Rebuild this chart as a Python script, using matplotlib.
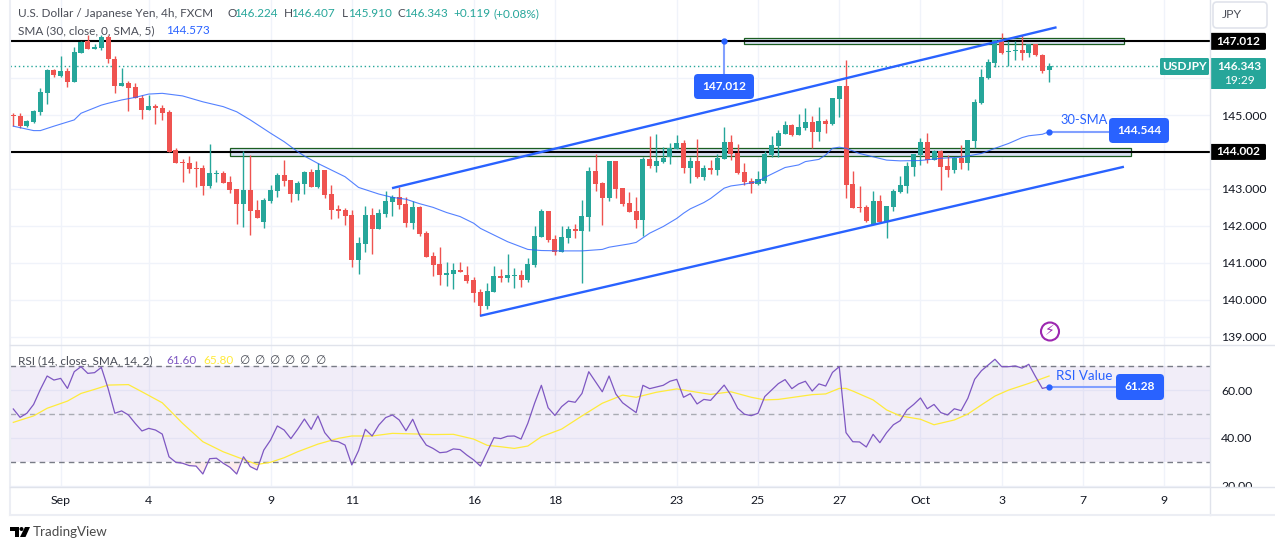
import matplotlib
matplotlib.use('Agg')
import matplotlib.pyplot as plt
from matplotlib.lines import Line2D
from matplotlib.patches import FancyBboxPatch, Polygon, Circle, Rectangle
from matplotlib.transforms import Bbox

plt.rcParams['font.family'] = ['Lato', 'DejaVu Sans']

# 4h candles, one value per bar
opens = [145.00,144.98,144.70,144.82,145.09,145.61,146.22,146.06,146.20,145.91,146.69,147.00,146.79,146.81,147.11,146.51,145.79,145.88,145.75,145.46,
         145.15,145.25,145.20,145.08,144.05,143.73,143.70,143.57,143.57,143.09,143.41,143.43,143.19,143.00,142.60,142.97,142.43,142.11,142.68,142.95,
         143.38,143.24,142.87,143.14,143.46,143.06,143.51,142.86,142.45,142.43,142.29,141.08,141.52,142.29,141.92,142.33,142.65,142.78,142.59,142.08,
         142.51,141.80,141.18,140.96,140.68,140.70,140.80,140.67,140.53,140.20,139.84,140.21,140.64,140.59,140.65,140.67,140.53,140.94,141.71,142.40,
         141.64,141.29,141.67,141.91,141.86,142.24,143.49,143.16,142.75,143.76,143.02,142.62,142.40,142.16,143.81,143.62,143.72,143.86,144.09,144.24,
         143.57,143.76,143.32,143.57,143.51,143.81,144.27,143.97,143.46,143.21,143.13,143.21,143.92,144.16,144.49,144.73,144.46,144.65,144.81,144.54,
         144.84,144.75,145.44,145.79,143.13,142.51,142.51,142.05,142.66,142.11,142.52,142.92,143.09,143.60,143.92,144.27,143.77,144.03,143.62,143.51,
         143.83,143.70,144.31,145.34,146.01,146.42,147.01,146.71,146.75,146.76,146.69,146.93,146.63,146.22]
highs = [145.05,145.05,144.87,145.14,145.73,146.25,146.24,146.60,146.27,146.84,147.01,147.17,146.94,147.17,147.17,146.60,146.27,145.92,145.88,145.54,
         145.54,145.30,145.27,145.14,144.10,143.81,143.89,143.76,143.65,144.22,143.51,143.49,143.35,143.00,144.04,143.92,142.70,142.74,143.11,143.42,
         143.78,143.24,143.21,143.49,143.54,143.69,143.51,143.11,142.56,142.47,142.43,141.70,142.54,142.47,142.45,142.94,142.83,143.06,142.77,142.66,
         142.55,141.86,141.28,141.43,141.01,140.98,141.01,140.91,140.62,140.29,140.44,140.91,140.82,141.24,140.85,140.80,141.12,141.99,142.46,142.40,
         141.75,141.99,141.99,142.05,142.70,143.58,143.95,143.20,143.76,143.76,143.02,142.92,142.77,143.86,144.43,144.49,144.14,144.24,144.46,144.33,
         143.86,144.35,143.65,143.78,143.95,144.68,144.46,144.22,143.70,143.30,143.49,144.03,144.43,144.60,144.84,144.76,145.03,145.19,144.98,145.22,
         144.89,145.45,145.79,146.49,143.49,143.08,142.56,142.93,142.83,142.55,142.99,143.35,143.74,143.94,144.39,144.51,144.05,144.05,143.92,143.87,
         144.19,144.33,145.43,146.24,146.52,147.04,147.22,147.01,147.01,147.17,146.94,146.93,146.65,146.41]
lows = [144.70,144.64,144.69,144.78,145.00,145.30,146.04,146.02,145.77,145.91,146.67,146.79,146.79,146.76,146.40,145.61,145.79,145.12,145.45,144.89,
        145.14,144.76,144.87,143.99,143.71,143.20,143.44,143.06,142.84,143.03,143.20,143.17,142.90,142.06,141.98,141.76,142.22,141.95,142.63,142.79,
        143.08,142.65,142.71,142.87,143.06,143.03,142.76,142.19,142.22,142.02,140.89,140.70,141.30,141.24,141.90,142.25,142.27,142.46,141.98,141.92,
        141.73,141.16,140.65,140.40,140.38,140.29,140.76,140.44,139.94,139.56,139.75,140.21,140.49,140.49,140.32,140.35,140.49,140.87,141.71,141.57,
        141.21,141.29,141.54,141.68,140.46,141.87,142.95,142.02,142.67,142.74,142.53,142.37,141.94,141.72,143.57,143.46,143.70,143.67,144.09,143.43,
        143.16,143.30,143.24,143.40,143.38,143.81,143.78,143.40,143.11,142.89,143.11,143.17,143.86,143.86,144.49,144.43,144.46,144.60,144.11,144.30,
        144.51,144.73,144.96,142.76,142.49,142.38,142.09,142.05,142.08,141.66,142.41,142.88,142.90,143.36,143.65,143.71,143.77,142.98,143.33,143.44,
        143.54,143.51,144.10,145.30,145.97,146.29,146.66,146.33,146.49,146.48,146.58,146.61,146.15,145.91]
closes = [144.98,144.70,144.84,145.11,145.62,146.22,146.10,146.20,145.91,146.71,146.97,146.79,146.84,147.13,146.51,145.79,145.86,145.73,145.45,145.15,
          145.24,145.20,145.07,144.01,143.71,143.71,143.54,143.54,143.09,143.43,143.43,143.17,142.98,142.60,142.97,142.41,142.22,142.70,142.97,143.38,
          143.22,142.87,143.16,143.46,143.06,143.51,142.84,142.44,142.41,142.27,141.08,141.53,142.29,141.92,142.35,142.67,142.78,142.57,142.08,142.51,
          141.79,141.16,140.95,140.68,140.72,140.80,140.76,140.50,140.19,139.84,140.23,140.64,140.59,140.67,140.67,140.53,140.96,141.72,142.40,141.62,
          141.29,141.70,141.91,141.87,142.27,143.49,143.13,142.75,143.76,143.01,142.58,142.37,142.16,143.81,143.62,143.76,143.84,144.11,144.24,143.57,
          143.76,143.32,143.57,143.52,143.84,144.27,143.95,143.43,143.19,143.14,143.26,143.95,144.19,144.51,144.73,144.45,144.68,144.81,144.54,144.84,
          144.76,145.45,145.79,143.11,142.49,142.48,142.13,142.66,142.10,142.54,142.93,143.11,143.62,143.94,144.27,143.78,144.03,143.60,143.51,143.83,
          143.70,144.33,145.36,146.03,146.44,147.04,146.68,146.74,146.76,146.69,146.93,146.62,146.20,146.34]

sma_idx = [0,3,4,6,9,10,13,14,16,18,20,22,25,28,31,33,35,38,40,42,43,45,47,49,51,53,54,56,58,60,62,64,66,68,69,71,73,75,76,78,81,84,87,88,91,92,94,96,98,99,100,102,103,105,106,108,110,111,113,114,116,117,119,120,121,122,123,125,127,129,131,134,137,140,143,145,147,149,150,152,153]
sma_vals = [144.70,144.58,144.58,144.70,144.87,145.05,145.27,145.32,145.41,145.48,145.57,145.59,145.52,145.36,145.23,145.09,144.87,144.51,144.28,144.01,143.89,143.69,143.51,143.33,143.04,142.92,142.86,142.77,142.72,142.60,142.50,142.36,142.25,142.07,141.93,141.75,141.57,141.43,141.36,141.33,141.32,141.32,141.36,141.42,141.51,141.55,141.80,141.98,142.20,142.34,142.46,142.63,142.74,143.02,143.08,143.13,143.20,143.31,143.49,143.58,143.65,143.74,143.80,143.92,144.10,144.13,144.10,143.96,143.87,143.78,143.76,143.77,143.83,143.86,143.96,144.10,144.23,144.39,144.44,144.48,144.55]

rsi_vals = [52.1,48.6,50.3,54.0,60.3,65.9,64.2,64.9,60.7,67.7,69.8,67.0,67.3,69.5,60.7,50.3,51.3,49.6,46.1,42.9,
            44.0,43.3,41.6,32.1,29.8,29.4,28.4,28.2,24.9,31.3,31.5,29.4,27.7,24.9,32.1,28.0,26.6,34.9,39.1,45.0,
            43.3,39.7,43.6,47.9,43.6,49.2,42.2,38.8,38.4,37.0,28.7,34.7,43.6,40.8,45.4,48.5,49.6,47.5,43.0,47.8,
            41.2,37.0,35.6,33.8,34.1,35.4,35.1,32.8,30.8,28.2,34.2,40.1,39.7,40.7,40.8,39.5,46.1,54.5,62.0,52.6,
            49.4,53.1,55.4,54.9,58.6,67.7,63.5,59.3,65.9,58.4,54.7,52.6,50.6,62.0,60.6,61.3,62.0,63.7,64.5,57.0,
            58.5,54.2,56.1,55.7,58.9,62.1,57.9,52.4,49.9,49.3,50.3,57.3,60.0,62.7,64.4,60.6,62.6,63.7,59.6,62.6,
            61.7,67.4,69.8,42.2,38.4,38.3,36.2,41.5,38.0,42.2,45.5,47.2,51.7,54.0,56.7,52.2,54.0,50.6,49.6,52.2,
            51.4,56.6,64.5,68.1,70.5,72.9,69.8,69.8,70.1,69.2,70.8,65.6,60.7,61.4]
rsi_ma_idx = [0,3,5,8,10,12,14,17,19,22,25,28,31,34,36,38,40,42,45,48,50,53,56,60,62,65,68,70,72,74,76,78,81,84,87,90,92,95,98,101,103,106,109,111,113,116,118,120,122,123,124,127,129,131,134,136,139,141,143,145,147,150,153]
rsi_ma_vals = [46.5,49.2,52.4,55.4,58.6,60.3,62.1,62.3,59.3,54.7,46.1,38.4,34.2,31.0,28.9,29.8,31.7,34.2,37.4,39.8,40.8,40.8,41.9,41.6,41.4,41.5,39.5,36.9,36.3,35.6,36.6,40.5,43.7,49.2,54.5,57.9,57.0,59.1,60.5,59.1,58.2,59.3,57.0,55.9,56.1,57.3,58.1,58.4,60.7,60.7,59.6,55.9,51.7,49.2,47.8,45.5,47.5,50.0,53.8,57.5,60.0,62.8,65.9]

date_ticks = [7,20,38,50,68,80,98,110,122,134,146,158,170]
date_labels = ['Sep','4','9','11','16','18','23','25','27','Oct','3','7','9']
price_ticks = [139,140,141,142,143,144,145,146,147]
price_hidden = [144,146,147]  # sit under the tags
rsi_ticks = [20,40,60]

level_hi = 147.012
level_lo = 144.002
last_price = 146.343
sma_last = 144.544
rsi_last = 61.28
chan_upper_x = [55.94,154.1]
chan_upper_y = [143.02,147.38]
chan_lower_x = [68.94,164.05]
chan_lower_y = [139.56,143.60]
zone_hi = [107.9,164.05,146.92,147.10]
zone_lo = [32.0,165.1,143.90,144.10]

BLUE = '#2962FF'
LBLUE = '#82A0FF'
UP = '#26A69A'
DOWN = '#EF5350'
GRID = '#F0F3FA'
EDGE = '#E0E3EB'
TXT = '#131722'
HEAD = '#4A4D57'

W, H = 1275, 550
L, R = 10, 1210
P_BOT, R_BOT, T_BOT = 344.5, 486.7, 514.5
STEP = 6.77
X0 = 13.3
PX_PRICE = 36.9
PX_RSI = 2.39

def y_price(p):
    return 152 - (p - 144) * PX_PRICE

fig = plt.figure(figsize=(W / 100, H / 100), dpi=100)
fig.patch.set_facecolor('white')

ax = fig.add_axes([L / W, 1 - P_BOT / H, (R - L) / W, P_BOT / H])
rs = fig.add_axes([L / W, 1 - R_BOT / H, (R - L) / W, (R_BOT - P_BOT) / H])
xlim = ((L - X0) / STEP, (R - X0) / STEP)

for a in (ax, rs):
    a.set_xlim(xlim)
    a.set_xticks(date_ticks)
    a.grid(True, color=GRID, lw=1)
    a.set_axisbelow(True)
    a.yaxis.tick_right()
    for s in a.spines.values():
        s.set_visible(False)

ax.set_ylim(144 - (P_BOT - 152) / PX_PRICE, 144 + 152 / PX_PRICE)
ax.set_yticks(price_ticks)
ax.set_yticklabels(['' if p in price_hidden else '%.3f' % p for p in price_ticks])
ax.tick_params(axis='x', length=0, labelbottom=False)
ax.tick_params(axis='y', length=0, pad=8, labelsize=8.8, labelcolor=TXT)

rs.set_ylim(50 - (R_BOT - 414) / PX_RSI, 50 + (414 - P_BOT) / PX_RSI)
rs.set_yticks(rsi_ticks)
rs.set_yticklabels(['%.2f' % r for r in rsi_ticks])
rs.set_xticklabels(date_labels)
rs.tick_params(axis='x', length=0, pad=6, labelsize=8.8, labelcolor=TXT)
rs.tick_params(axis='y', length=0, pad=8, labelsize=8.8, labelcolor=TXT)
# the 20.00 label is cut by the time axis
for lab in rs.get_yticklabels():
    lab.set_clip_on(True)
    lab.set_clip_box(Bbox([[R, H - R_BOT], [W, H]]))

# zones
for z in (zone_hi, zone_lo):
    ax.add_patch(Rectangle((z[0], z[2]), z[1] - z[0], z[3] - z[2], fc='#D9E1F4', ec='#1B5E20', lw=0.9, zorder=2))

# levels
ax.axhline(level_hi, color='black', lw=1.5, zorder=3)
ax.axhline(level_lo, color='black', lw=1.5, zorder=3)
ax.plot([xlim[0], (1160 - X0) / STEP], [last_price, last_price], color=UP, lw=1, ls=(0, (1, 2)), zorder=3)

# candles
idx = list(range(len(opens)))
cols = [UP if c >= o else DOWN for o, c in zip(opens, closes)]
ax.vlines(idx, lows, highs, colors=cols, lw=1, zorder=4)
ax.bar(idx, [c - o for o, c in zip(opens, closes)], bottom=opens, width=0.74, color=cols, lw=0, zorder=4)

ax.plot(sma_idx, sma_vals, color=BLUE, lw=0.8, alpha=0.8, zorder=5)
ax.plot(chan_upper_x, chan_upper_y, color=BLUE, lw=1.7, zorder=6, solid_capstyle='butt')
ax.plot(chan_lower_x, chan_lower_y, color=BLUE, lw=1.7, zorder=6, solid_capstyle='butt')

# rsi pane
rs.axhspan(30, 70, color='#7E57C2', alpha=0.1, lw=0)
rs.axhline(70, color='#787B86', lw=1, ls=(0, (4, 3)))
rs.axhline(50, color='#A9ABB3', lw=1, ls=(0, (4, 3)))
rs.axhline(30, color='#787B86', lw=1, ls=(0, (4, 3)))
rs.fill_between(idx, rsi_vals, 30, where=[r < 30 for r in rsi_vals], color='#EF5350', alpha=0.1, lw=0, interpolate=True)
rs.fill_between(idx, rsi_vals, 70, where=[r > 70 for r in rsi_vals], color='#26A69A', alpha=0.1, lw=0, interpolate=True)
rs.plot(rsi_ma_idx, rsi_ma_vals, color='#FFEB3B', lw=0.9, zorder=4)
rs.plot(idx, rsi_vals, color='#7E57C2', lw=0.9, zorder=5)

# overlay in pixels for frame, boxes and labels
ov = fig.add_axes([0, 0, 1, 1], zorder=10)
ov.set_xlim(0, W)
ov.set_ylim(H, 0)
ov.axis('off')
ov.patch.set_alpha(0)

ov.add_line(Line2D([L, L], [0, T_BOT], color='#ECEEF4', lw=1.5))
ov.add_line(Line2D([R, R], [0, T_BOT], color=EDGE, lw=1))
ov.add_line(Line2D([L, W], [T_BOT, T_BOT], color='#ECEEF4', lw=1.5))
ov.add_line(Line2D([L, W], [P_BOT, P_BOT], color=EDGE, lw=1))
ov.add_line(Line2D([L, W], [R_BOT, R_BOT], color=EDGE, lw=1))

def box(x0, y0, x1, y1, fc, round_px=1.5, ec='none', lw=0):
    ov.add_patch(FancyBboxPatch((x0 + round_px, y0 + round_px), x1 - x0 - 2 * round_px, y1 - y0 - 2 * round_px,
                                boxstyle='round,pad=%s,rounding_size=%s' % (round_px, round_px), fc=fc, ec=ec, lw=lw))

def label(x0, y0, x1, y1, txt, fc, round_px=1.5, size=8.6):
    box(x0, y0, x1, y1, fc, round_px)
    ov.text((x0 + x1) / 2, (y0 + y1) / 2, txt, color='white', ha='center', va='center', fontsize=size, fontweight='bold')

# price scale tags
label(R, y_price(level_hi) - 8, 1266, y_price(level_hi) + 9, '%.3f' % level_hi, 'black')
label(R, y_price(level_lo) - 8, 1266, y_price(level_lo) + 8, '%.3f' % level_lo, 'black')
label(1160, 58, 1209, 75, 'USDJPY', UP)
box(R, 58, 1266, 89, UP)
ov.text(1239, 67, '%.3f' % last_price, color='white', ha='center', va='center', fontsize=8.6, fontweight='bold')
ov.text(1239, 81, '19:29', color='white', ha='center', va='center', fontsize=8.6)
box(1213, 2, 1267, 28, 'white', 4, EDGE, 1.2)
ov.text(1222, 15, 'JPY', color=HEAD, ha='left', va='center', fontsize=8.8)

# callouts
ax.plot([(724 - X0) / STEP] * 2, [level_hi, 144 + (152 - 74) / PX_PRICE], color=LBLUE, lw=1.5, zorder=7)
ax.plot([(724 - X0) / STEP], [level_hi], 'o', color=BLUE, ms=3.5, zorder=7)
label(694, 74, 754, 99, '%.3f' % level_hi, BLUE, 4)

ax.plot([153, (1109 - X0) / STEP], [sma_last, sma_last], color=LBLUE, lw=1.5, zorder=7)
ax.plot([153], [sma_last], 'o', color=BLUE, ms=3.5, zorder=7)
label(1109, 118, 1169, 143, '%.3f' % sma_last, BLUE, 4)
ov.text(1060, 120, '30-SMA', color=BLUE, ha='left', va='center', fontsize=9.3)

rs.plot([153, (1116 - X0) / STEP], [rsi_last, rsi_last], color=LBLUE, lw=1.5, zorder=7)
rs.plot([153], [rsi_last], 'o', color=BLUE, ms=3.5, zorder=7)
label(1116, 374, 1164, 400, '%.2f' % rsi_last, BLUE, 4)
ov.text(1056, 375.5, 'RSI Value', color=BLUE, ha='left', va='center', fontsize=9.6)

# flash icon
ov.add_patch(Circle((1050, 331.5), 9, fc='white', ec='#9C27B0', lw=1.5))
ov.text(1050, 331.5, '\u26a1', color='#9C27B0', ha='center', va='center', fontsize=10, family='DejaVu Sans')

# legends
def legend_row(y, parts):
    for x, txt, col in parts:
        ov.text(x, y, txt, color=col, ha='left', va='center', fontsize=8.5)

legend_row(13.5, [(18, 'U.S. Dollar / Japanese Yen, 4h, FXCM', HEAD),
                  (227, 'O', HEAD), (234, '146.224', UP),
                  (284, 'H', HEAD), (291, '146.407', UP),
                  (342, 'L', HEAD), (348, '145.910', UP),
                  (397, 'C', HEAD), (404, '146.343', UP),
                  (453, '+0.119', UP), (493, '(+0.08%)', UP)])
legend_row(30.5, [(18, 'SMA (30, close, 0, SMA, 5)', HEAD), (166, '144.573', BLUE)])
legend_row(360.5, [(18, 'RSI (14, close, SMA, 14, 2)', HEAD), (166, '61.60', '#7E57C2'), (203, '65.80', '#FFEB3B')])
for x in [244, 259, 274, 289, 304, 320]:
    ov.text(x, 360.5, '\u2205', color=HEAD, ha='center', va='center', fontsize=8.5)

# logo
ov.add_patch(Polygon([(10, 527), (19, 527), (19, 537), (14.5, 537), (14.5, 531), (10, 531)], fc='black'))
ov.add_patch(Circle((21.5, 529), 2, fc='black'))
ov.add_patch(Polygon([(25, 527), (30, 527), (25.5, 537), (20, 537)], fc='black'))
ov.text(33, 532.5, 'TradingView', color='#4A4A4A', ha='left', va='center', fontsize=9.6)

plt.savefig('out.png', dpi=100)
